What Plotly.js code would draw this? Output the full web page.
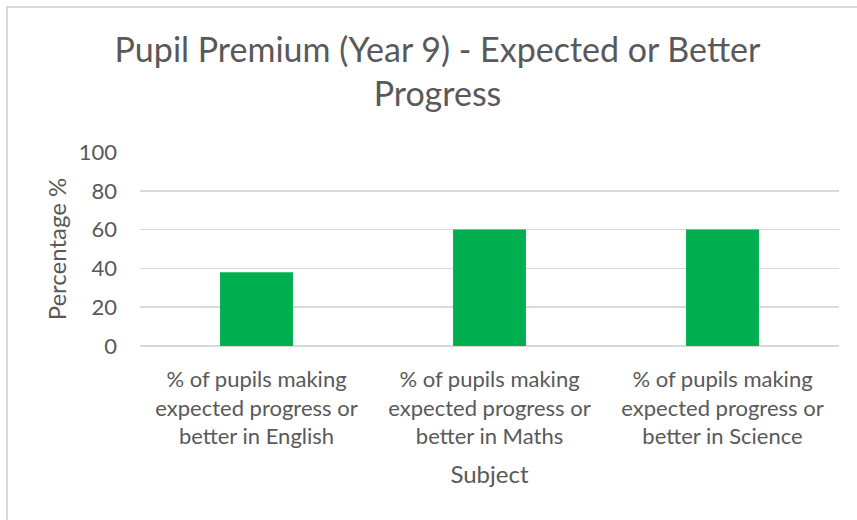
<!DOCTYPE html>
<html>
<head>
<meta charset="utf-8">
<script src="https://cdn.plot.ly/plotly-3.0.1.min.js"></script>
<style>
html,body{margin:0;padding:0;background:#fff;overflow:hidden;}
#wrap{position:relative;width:857px;height:520px;}
#chart{position:absolute;left:0;top:0;width:857px;height:520px;}
#frame{position:absolute;left:6px;top:6px;width:900px;height:600px;border-left:2px solid #d9d9d9;border-top:2px solid #d9d9d9;pointer-events:none;}
</style>
</head>
<body>
<div id="wrap"><div id="chart"></div><div id="frame"></div></div>
<script>
const categories = [
  "% of pupils making<br>expected progress or<br>better in English",
  "% of pupils making<br>expected progress or<br>better in Maths",
  "% of pupils making<br>expected progress or<br>better in Science"
];
const values = [38, 60, 60];
const yTicks = [0, 20, 40, 60, 80, 100];

const FONT = "Lato, 'Open Sans', sans-serif";
const GREY = "#595959";

Plotly.newPlot("chart", [{
  type: "bar",
  x: categories,
  y: values,
  marker: {color: "#00B050"},
  hoverinfo: "none"
}], {
  width: 857, height: 520,
  margin: {l: 140, r: 18, t: 152, b: 174, pad: 0},
  paper_bgcolor: "rgba(0,0,0,0)",
  plot_bgcolor: "rgba(0,0,0,0)",
  font: {family: FONT, color: GREY, size: 22},
  bargap: 0.687,
  showlegend: false,
  title: {
    text: "Pupil Premium (Year 9) - Expected or Better<br>Progress",
    font: {family: FONT, size: 34, color: GREY},
    x: 0.5105, xanchor: "center",
    y: 1 - 62/520, yanchor: "top", yref: "container"
  },
  xaxis: {
    type: "category",
    showgrid: false,
    showline: false,
    ticks: "",
    ticklabelstandoff: 18,
    tickfont: {size: 22, color: GREY, family: FONT},
    title: {text: "Subject", font: {size: 24, color: GREY, family: FONT}, standoff: 17},
    fixedrange: true
  },
  yaxis: {
    range: [0, 100],
    tickvals: yTicks,
    ticktext: yTicks.map(String),
    showgrid: true,
    gridcolor: "#d9d9d9",
    gridwidth: 1.5,
    zeroline: true,
    zerolinecolor: "#d9d9d9",
    zerolinewidth: 1.5,
    showline: false,
    ticks: "",
    ticklabelstandoff: 22,
    tickfont: {size: 22, color: GREY, family: FONT},
    title: {text: "Percentage %", font: {size: 24, color: GREY, family: FONT}, standoff: 5},
    fixedrange: true
  }
}, {displayModeBar: false, staticPlot: true});
</script>
</body>
</html>
